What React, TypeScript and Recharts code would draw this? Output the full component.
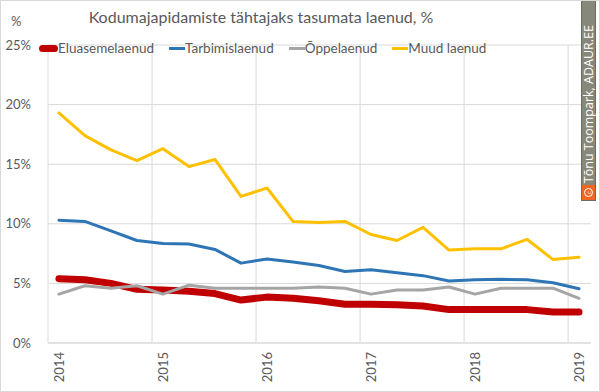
import React from "react";
import { LineChart, Line, XAxis, YAxis, CartesianGrid, ReferenceLine } from "recharts";

const quarters = ["2014Q1","2014Q2","2014Q3","2014Q4","2015Q1","2015Q2","2015Q3","2015Q4","2016Q1","2016Q2","2016Q3","2016Q4","2017Q1","2017Q2","2017Q3","2017Q4","2018Q1","2018Q2","2018Q3","2018Q4","2019Q1"];
const eluasemelaenud = [5.4, 5.3, 5.0, 4.5, 4.45, 4.35, 4.15, 3.6, 3.85, 3.75, 3.55, 3.25, 3.25, 3.2, 3.1, 2.8, 2.8, 2.8, 2.8, 2.6, 2.6];
const tarbimislaenud = [10.3, 10.2, 9.4, 8.6, 8.35, 8.3, 7.85, 6.7, 7.05, 6.8, 6.5, 6.0, 6.15, 5.9, 5.65, 5.2, 5.3, 5.35, 5.3, 5.05, 4.55];
const oppelaenud = [4.1, 4.8, 4.6, 4.8, 4.1, 4.85, 4.6, 4.6, 4.6, 4.6, 4.7, 4.6, 4.1, 4.45, 4.45, 4.7, 4.1, 4.6, 4.6, 4.6, 3.75];
const muudLaenud = [19.3, 17.4, 16.2, 15.3, 16.3, 14.8, 15.4, 12.3, 13.0, 10.2, 10.1, 10.2, 9.1, 8.6, 9.7, 7.8, 7.9, 7.9, 8.7, 7.0, 7.2];
const yearLabels = ["2014", "2015", "2016", "2017", "2018", "2019"];
const yearTickIdx = [0, 4, 8, 12, 16, 20];
const yTicks = [0, 5, 10, 15, 20, 25];
const yearBoundaries = [-0.42, 3.58, 7.58, 11.58, 15.58, 19.58];

const data = quarters.map((q, i) => ({
  i,
  q,
  e: eluasemelaenud[i],
  t: tarbimislaenud[i],
  o: oppelaenud[i],
  m: muudLaenud[i],
}));

const series = [
  { key: "e", name: "Eluasemelaenud", color: "#c00000", width: 7 },
  { key: "t", name: "Tarbimislaenud", color: "#2e75b6", width: 3 },
  { key: "o", name: "Õppelaenud", color: "#a5a5a5", width: 3 },
  { key: "m", name: "Muud laenud", color: "#ffc000", width: 3 },
];

const FONT = "Lato, 'Open Sans', sans-serif";
const TXT = "#595959";

const XTick = (props: any) => {
  const { x, y, payload } = props;
  const idx = yearTickIdx.indexOf(payload.value);
  return (
    <g transform={`translate(${x},${y}) rotate(-90)`}>
      <text x={0} y={0} dy="0.36em" textAnchor="end" fill={TXT} fontSize={13} fontFamily={FONT}>
        {idx >= 0 ? yearLabels[idx] : ""}
      </text>
    </g>
  );
};

export default function App() {
  return (
    <div style={{ position: "absolute", left: 0, top: 0, width: 600, height: 392, background: "#fff", fontFamily: FONT }}>
      <LineChart width={600} height={392} data={data} margin={{ top: 45, right: 9, bottom: 9, left: 8 }}>
        <CartesianGrid vertical={false} stroke="#d9d9d9" strokeWidth={1} />
        {yearBoundaries.map((b) => (
          <ReferenceLine key={b} x={b} stroke="#d9d9d9" strokeWidth={1} ifOverflow="visible" />
        ))}
        <XAxis
          type="number"
          dataKey="i"
          domain={[-0.42, 20.46]}
          ticks={yearTickIdx}
          allowDataOverflow
          tickLine={false}
          tickSize={0}
          tickMargin={9}
          height={40}
          axisLine={{ stroke: "#d9d9d9" }}
          tick={<XTick />}
          interval={0}
        />
        <YAxis
          domain={[0, 25]}
          ticks={yTicks}
          width={40}
          axisLine={false}
          tickLine={false}
          tickSize={0}
          tickMargin={17}
          tickFormatter={(v: number) => `${v}%`}
          tick={{ fill: TXT, fontSize: 13, fontFamily: FONT }}
          interval={0}
        />
        {series.map((s) => (
          <Line
            key={s.key}
            type="linear"
            dataKey={s.key}
            name={s.name}
            stroke={s.color}
            strokeWidth={s.width}
            dot={false}
            activeDot={false}
            strokeLinecap="round"
            strokeLinejoin="round"
            isAnimationActive={false}
          />
        ))}
      </LineChart>

      <div style={{ position: "absolute", left: 11, top: 13, fontSize: 13, color: TXT }}>%</div>
      <div style={{ position: "absolute", left: 0, width: 522, top: 7, textAlign: "center", fontSize: 16, color: TXT, whiteSpace: "nowrap" }}>
        Kodumajapidamiste tähtajaks tasumata laenud, %
      </div>

      <div style={{ position: "absolute", left: 39, top: 39, display: "flex", alignItems: "center", fontSize: 13.5, color: TXT, whiteSpace: "nowrap" }}>
        {series.map((s, k) => (
          <div key={s.key} style={{ display: "flex", alignItems: "center", marginLeft: k === 0 ? 0 : 15 }}>
            <div
              style={{
                width: k === 0 ? 19 : 16,
                height: s.width,
                background: s.color,
                borderRadius: k === 0 ? 4 : 0,
              }}
            />
            <span style={{ lineHeight: "18px" }}>{s.name}</span>
          </div>
        ))}
      </div>

      <div
        style={{
          position: "absolute",
          left: 581,
          top: 0,
          width: 15,
          height: 201,
          background: "#87877a",
          border: "1px solid #6b6b60",
          boxSizing: "border-box",
          display: "flex",
          flexDirection: "column",
          alignItems: "center",
          justifyContent: "flex-end",
        }}
      >
        <div
          style={{
            writingMode: "vertical-rl",
            transform: "rotate(180deg)",
            color: "#fff",
            fontSize: 12.5,
            fontFamily: "'Open Sans', sans-serif",
            whiteSpace: "nowrap",
            lineHeight: "13px",
            marginBottom: 2,
          }}
        >
          Tõnu Toompark, ADAUR.EE
        </div>
        <div
          style={{
            width: 13,
            height: 15,
            background: "#f26522",
            display: "flex",
            alignItems: "center",
            justifyContent: "center",
          }}
        >
          <div
            style={{
              width: 9,
              height: 9,
              borderRadius: "50%",
              border: "1px solid #fff",
              boxSizing: "border-box",
              color: "#fff",
              fontSize: 6,
              lineHeight: "7px",
              textAlign: "center",
              transform: "rotate(-90deg)",
            }}
          >
            c
          </div>
        </div>
      </div>

      <div style={{ position: "absolute", left: 0, top: 0, width: 600, height: 392, border: "1px solid #d9d9d9", boxSizing: "border-box", pointerEvents: "none" }} />
    </div>
  );
}
